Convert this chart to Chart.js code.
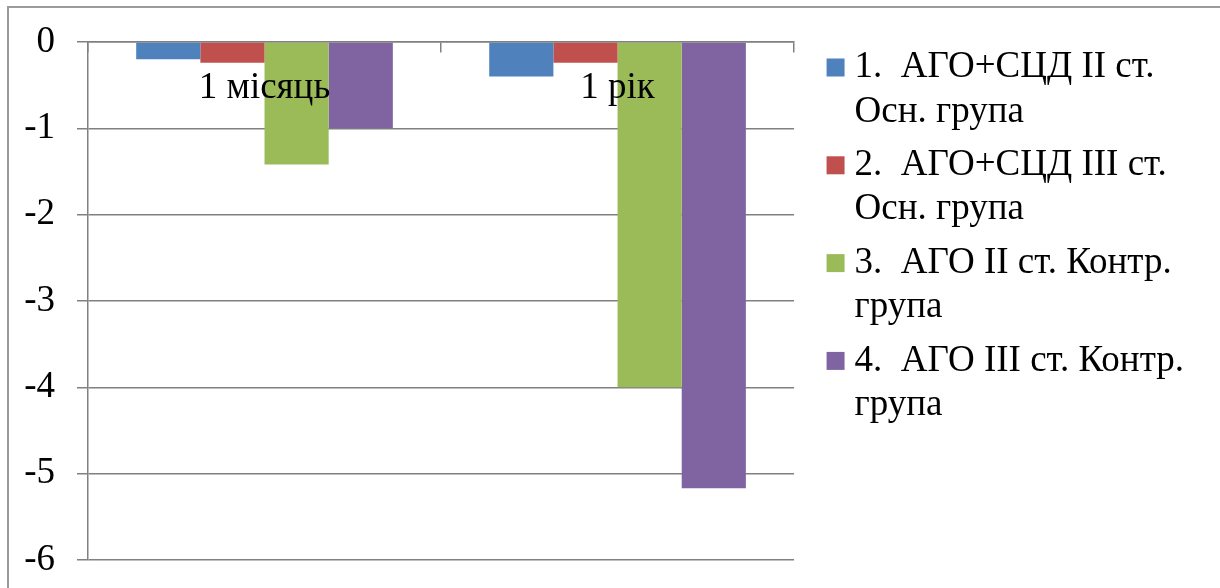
<!DOCTYPE html>
<html>
<head>
<meta charset="utf-8">
<script src="https://cdn.jsdelivr.net/npm/chart.js@4.4.1/dist/chart.umd.min.js"></script>
<style>
    html, body { margin: 0; padding: 0; background: #fff; overflow: hidden; }
    /* рамка області діаграми (видно лише ліву та верхню сторони) */
    #frame {
        position: absolute; left: 7px; top: 6px;
        width: 1300px; height: 700px;
        border-left: 2px solid #9b9b9b;
        border-top:  2px solid #9b9b9b;
    }
    #wrap { position: absolute; left: 0; top: 0; width: 1220px; height: 588px; }
</style>
</head>
<body>
<div id="frame"></div>
<div id="wrap"><canvas id="chart"></canvas></div>

<script>
/* ---------- дані ---------- */
const categories = ["1 місяць", "1 рік"];

const seriesNames = [
    ["1.  АГО+СЦД II ст.", "Осн. група"],
    ["2.  АГО+СЦД III ст.", "Осн. група"],
    ["3.  АГО II ст. Контр.", "група"],
    ["4.  АГО III ст. Контр.", "група"]
];

const series1 = [-0.2,  -0.4];
const series2 = [-0.24, -0.24];
const series3 = [-1.42, -4.0];
const series4 = [-1.0,  -5.17];

const yMin = -6;
const yMax = 0;
const yStep = 1;

const colors = ["#4F81BD", "#C0504D", "#9BBB59", "#8064A2"];

/* ---------- стилі ---------- */
const FONT = { family: "'Liberation Serif', 'Times New Roman', serif", size: 37 };
const GRID = "#808080";

const values = [series1, series2, series3, series4];

new Chart(document.getElementById("chart"), {
    type: "bar",
    data: {
        labels: categories,
        datasets: values.map((v, i) => ({
            label: seriesNames[i],
            data: v,
            backgroundColor: colors[i],
            borderWidth: 0,
            categoryPercentage: 0.727,
            barPercentage: 1
        }))
    },
    options: {
        responsive: true,
        maintainAspectRatio: false,
        animation: false,
        layout: { padding: { left: 8, top: 40, right: 26, bottom: 0 } },
        plugins: {
            tooltip: { enabled: false },
            legend: {
                position: "right",
                align: "start",
                maxWidth: 700,
                labels: {
                    // квадратик 18px через pointStyle, щоб текст стояв ближче
                    usePointStyle: true,
                    pointStyle: "rect",
                    boxWidth: 1,
                    boxHeight: 18,
                    padding: 9,
                    color: "#000",
                    font: FONT
                }
            }
        },
        scales: {
            x: {
                position: { y: 0 },
                // z: 1 у ticks — підписи категорій малюються поверх стовпців
                ticks: { color: "#000", font: FONT, padding: 14, maxRotation: 0, z: 1 },
                grid:  { drawOnChartArea: false, tickLength: 10, color: GRID, lineWidth: 1.5, offset: true },
                border: { color: GRID, width: 1.5 }
            },
            y: {
                min: yMin,
                max: yMax,
                ticks: { stepSize: yStep, color: "#000", font: FONT, padding: 22 },
                grid:  { color: GRID, lineWidth: 1.5, tickLength: 11 },
                border: { color: GRID, width: 1.5 },
                afterFit(scale) {
                    scale.width = 80;
                    scale.paddingTop = 42;
                    scale.paddingBottom = 28;
                }
            },
            // порожня вісь праворуч — лише відступ між графіком і легендою
            gap: {
                type: "linear",
                position: "right",
                ticks: { display: false },
                grid:  { display: false, drawTicks: false },
                border: { display: false },
                afterFit(scale) { scale.width = 32; }
            }
        }
    }
});
</script>
</body>
</html>
